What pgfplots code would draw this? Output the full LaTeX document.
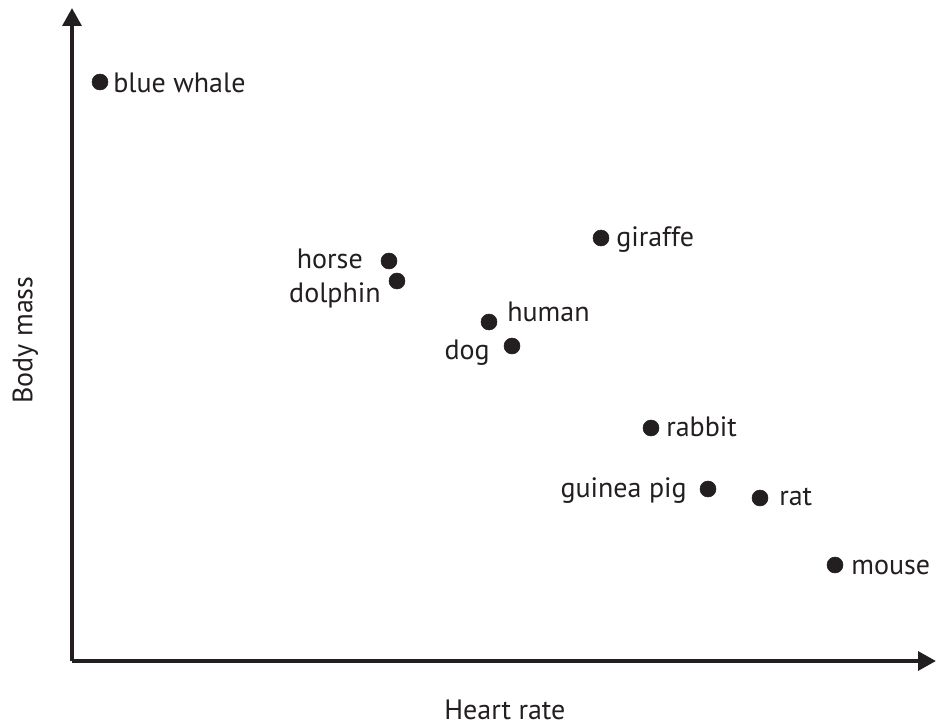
\documentclass[border=0pt]{standalone}
\usepackage{pgfplots}
\pgfplotsset{compat=1.18}
\usepackage{fontspec}
\setmainfont{PT Sans}
\usetikzlibrary{arrows.meta}
\definecolor{ink}{HTML}{231F20}
\begin{document}
\begin{tikzpicture}
\begin{axis}[
  x=0.75pt, y=0.75pt,
  xmin=0, xmax=864, ymin=0, ymax=653,
  enlargelimits=false,
  axis lines=left,
  axis line style={line width=3.2pt, ink, -{Triangle[length=13.5pt,width=14pt]}},
  ticks=none,
  clip=false,
  xlabel={Heart rate},
  ylabel={Body mass},
  label style={font=\fontsize{21}{25}\selectfont, text=ink},
  xlabel style={at={(axis description cs:0.501,-0.075)}, anchor=center},
  ylabel style={at={(axis description cs:-0.054,0.4916)}, anchor=center, rotate=0},
]
\addplot[only marks, mark=*, mark size=6pt, ink, mark options={fill=ink, draw=ink}] coordinates {
  (28,579) (317,400) (325,380) (529,423) (417,339)
  (440,315) (579,233) (636,172) (688,163) (763,96)
};
\begin{scope}[every node/.style={inner sep=0pt, font=\fontsize{21}{25}\selectfont, text=ink}]
\node[anchor=base west] at (axis cs:41,568) {blue whale};
\node[anchor=base west] at (axis cs:544,415) {giraffe};
\node[anchor=base east] at (axis cs:291,393) {horse};
\node[anchor=base east] at (axis cs:309,359) {dolphin};
\node[anchor=base west] at (axis cs:435,340) {human};
\node[anchor=base east] at (axis cs:418,302) {dog};
\node[anchor=base west] at (axis cs:594,225) {rabbit};
\node[anchor=base east] at (axis cs:615,164) {guinea pig};
\node[anchor=base west] at (axis cs:707,156) {rat};
\node[anchor=base west] at (axis cs:779,87) {mouse};
\end{scope}
\path (axis cs:-72,-65) rectangle (axis cs:869,661);
\end{axis}
\end{tikzpicture}
\end{document}
